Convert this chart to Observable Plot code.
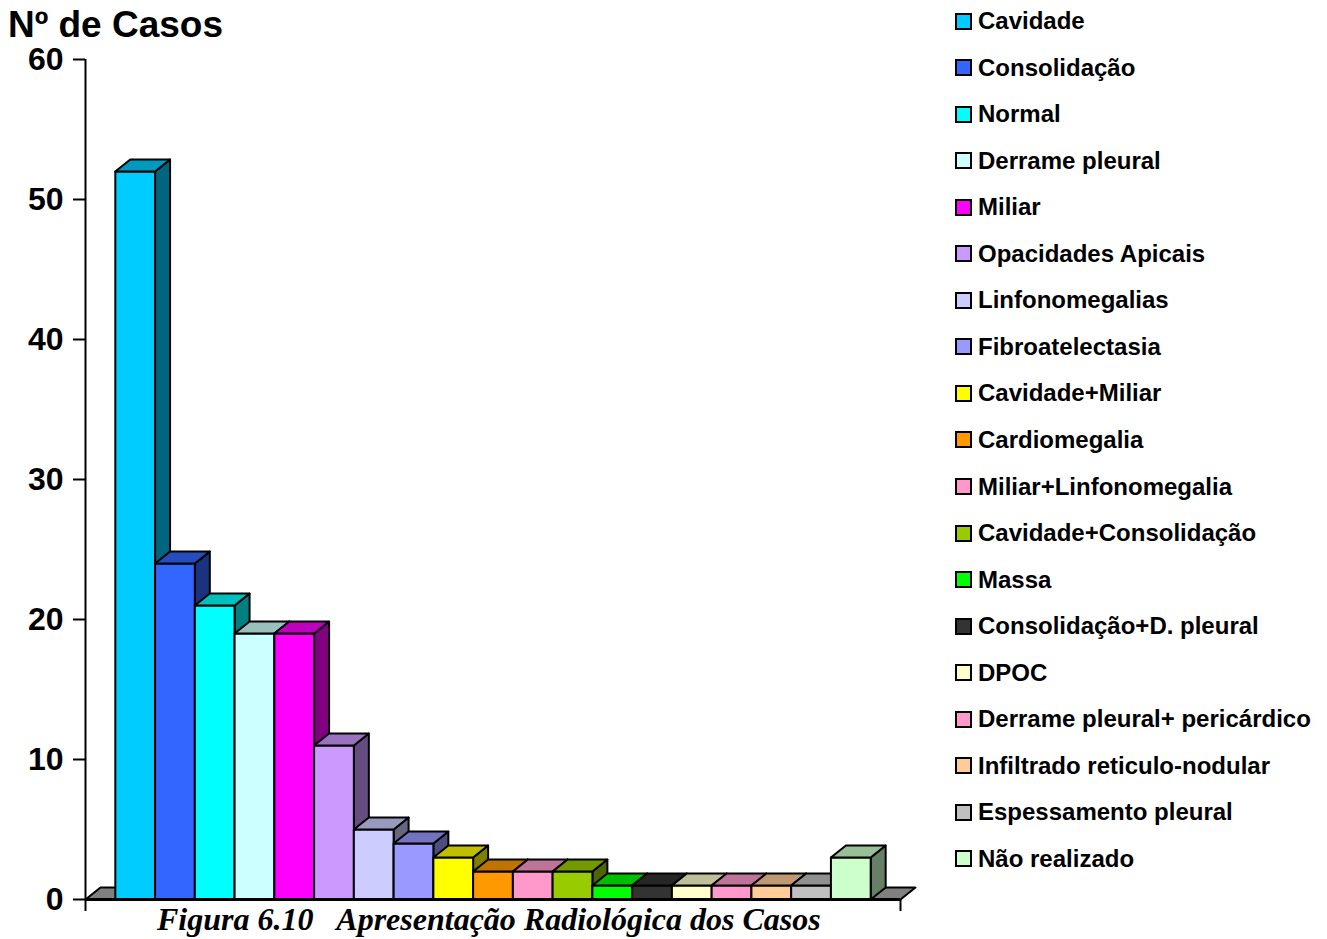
<!DOCTYPE html>
<html>
<head>
<meta charset="utf-8">
<script src="https://cdn.jsdelivr.net/npm/d3@7"></script>
<script src="https://cdn.jsdelivr.net/npm/@observablehq/plot@0.6"></script>
<style>
  html, body { margin: 0; padding: 0; background: #fff; }
  body { position: relative; width: 1327px; height: 939px; overflow: hidden;
         font-family: "Liberation Sans", Arial, sans-serif; }
  #chart { position: absolute; left: 0; top: 0; }
  #title { position: absolute; left: 8px; top: 12px; font-size: 37px; line-height: 26px;
           font-weight: bold; color: #000; white-space: nowrap; }
  #legend { position: absolute; left: 955px; top: 0; }
  .row { position: absolute; left: 0; height: 24px; display: flex; align-items: center;
         white-space: nowrap; font-size: 24px; font-weight: bold; color: #000; }
  .swatch { width: 13px; height: 13px; border: 2px solid #000; margin-right: 6px; flex: none; }
  #caption { position: absolute; left: 157px; top: 904px; font-family: "Liberation Serif", "Times New Roman", serif;
             font-size: 32px; line-height: 30px; font-weight: bold; font-style: italic; white-space: pre; }
</style>
</head>
<body>
<div id="title">Nº de Casos</div>
<div id="chart"></div>
<div id="legend"></div>
<div id="caption">Figura 6.10   Apresentação Radiológica dos Casos</div>
<script>
// Radiological findings and number of cases
const categories = [
  "Cavidade", "Consolidação", "Normal", "Derrame pleural", "Miliar",
  "Opacidades Apicais", "Linfonomegalias", "Fibroatelectasia", "Cavidade+Miliar",
  "Cardiomegalia", "Miliar+Linfonomegalia", "Cavidade+Consolidação", "Massa",
  "Consolidação+D. pleural", "DPOC", "Derrame pleural+ pericárdico",
  "Infiltrado reticulo-nodular", "Espessamento pleural", "Não realizado"
];
const counts = [52, 24, 21, 19, 19, 11, 5, 4, 3, 2, 2, 2, 1, 1, 1, 1, 1, 1, 3];
const colors = [
  "#00ccff", "#3366ff", "#00ffff", "#ccffff", "#ff00ff",
  "#cc99ff", "#ccccff", "#9999ff", "#ffff00",
  "#ff9900", "#ff99cc", "#99cc00", "#00ff00",
  "#333333", "#ffffcc", "#ff99cc",
  "#ffcc99", "#c0c0c0", "#ccffcc"
];
const yTicks = [0, 10, 20, 30, 40, 50, 60];

// Extent of the category axis (bar i occupies [i, i+1]) and the oblique depth
const X0 = -0.75, X1 = categories.length + 0.75;
const DX = 0.377, DY = 0.857;

const shade = (c, f) => { const r = d3.rgb(c); return d3.rgb(r.r * f, r.g * f, r.b * f).formatHex(); };

// Closed polygons for the floor slab and the three visible faces of each bar,
// listed in painting order.
const faces = [];
const poly = (key, fill, pts) => {
  [...pts, pts[0]].forEach(([x, y]) => faces.push({key, fill, x, y}));
};
poly("floor", "#808080", [[X0, 0], [X1, 0], [X1 + DX, DY], [X0 + DX, DY]]);
counts.forEach((v, i) => {
  const c = colors[i];
  poly(`side-${i}`, shade(c, 0.5), [[i + 1, 0], [i + 1 + DX, DY], [i + 1 + DX, v + DY], [i + 1, v]]);
  poly(`front-${i}`, c, [[i, 0], [i + 1, 0], [i + 1, v], [i, v]]);
  poly(`top-${i}`, shade(c, 0.75), [[i, v], [i + 1, v], [i + 1 + DX, v + DY], [i + DX, v + DY]]);
});

const chart = Plot.plot({
  width: 930,
  height: 939,
  marginLeft: 85,
  marginRight: 30,
  marginTop: 59,
  marginBottom: 40,
  style: { fontFamily: "'Liberation Sans', Arial, sans-serif", fontSize: "32px", fontWeight: "bold", color: "#000", background: "transparent" },
  x: { domain: [X0, X1] },
  y: { domain: [0, 60] },
  color: { type: "identity" },
  marks: [
    Plot.line(faces, { x: "x", y: "y", z: "key", fill: "fill", stroke: "#000", strokeWidth: 2 }),
    Plot.ruleX([X0], { y1: 0, y2: 60, stroke: "#000", strokeWidth: 2 }),
    Plot.ruleY([0], { x1: X0, x2: X1, stroke: "#000", strokeWidth: 3 }),
    Plot.axisY({ ticks: yTicks, tickSize: 12, tickPadding: 10, strokeWidth: 2, label: null }),
    Plot.axisX({ ticks: [X0, X1], tickSize: 12, tickFormat: () => "", strokeWidth: 2, label: null })
  ]
});
document.getElementById("chart").appendChild(chart);

// Legend, one row per category
const legend = d3.select("#legend");
const rowStep = 46.55;
categories.forEach((name, i) => {
  const row = legend.append("div").attr("class", "row").style("top", `${21 + i * rowStep - 12}px`);
  row.append("div").attr("class", "swatch").style("background", colors[i]);
  row.append("span").text(name);
});
</script>
</body>
</html>
